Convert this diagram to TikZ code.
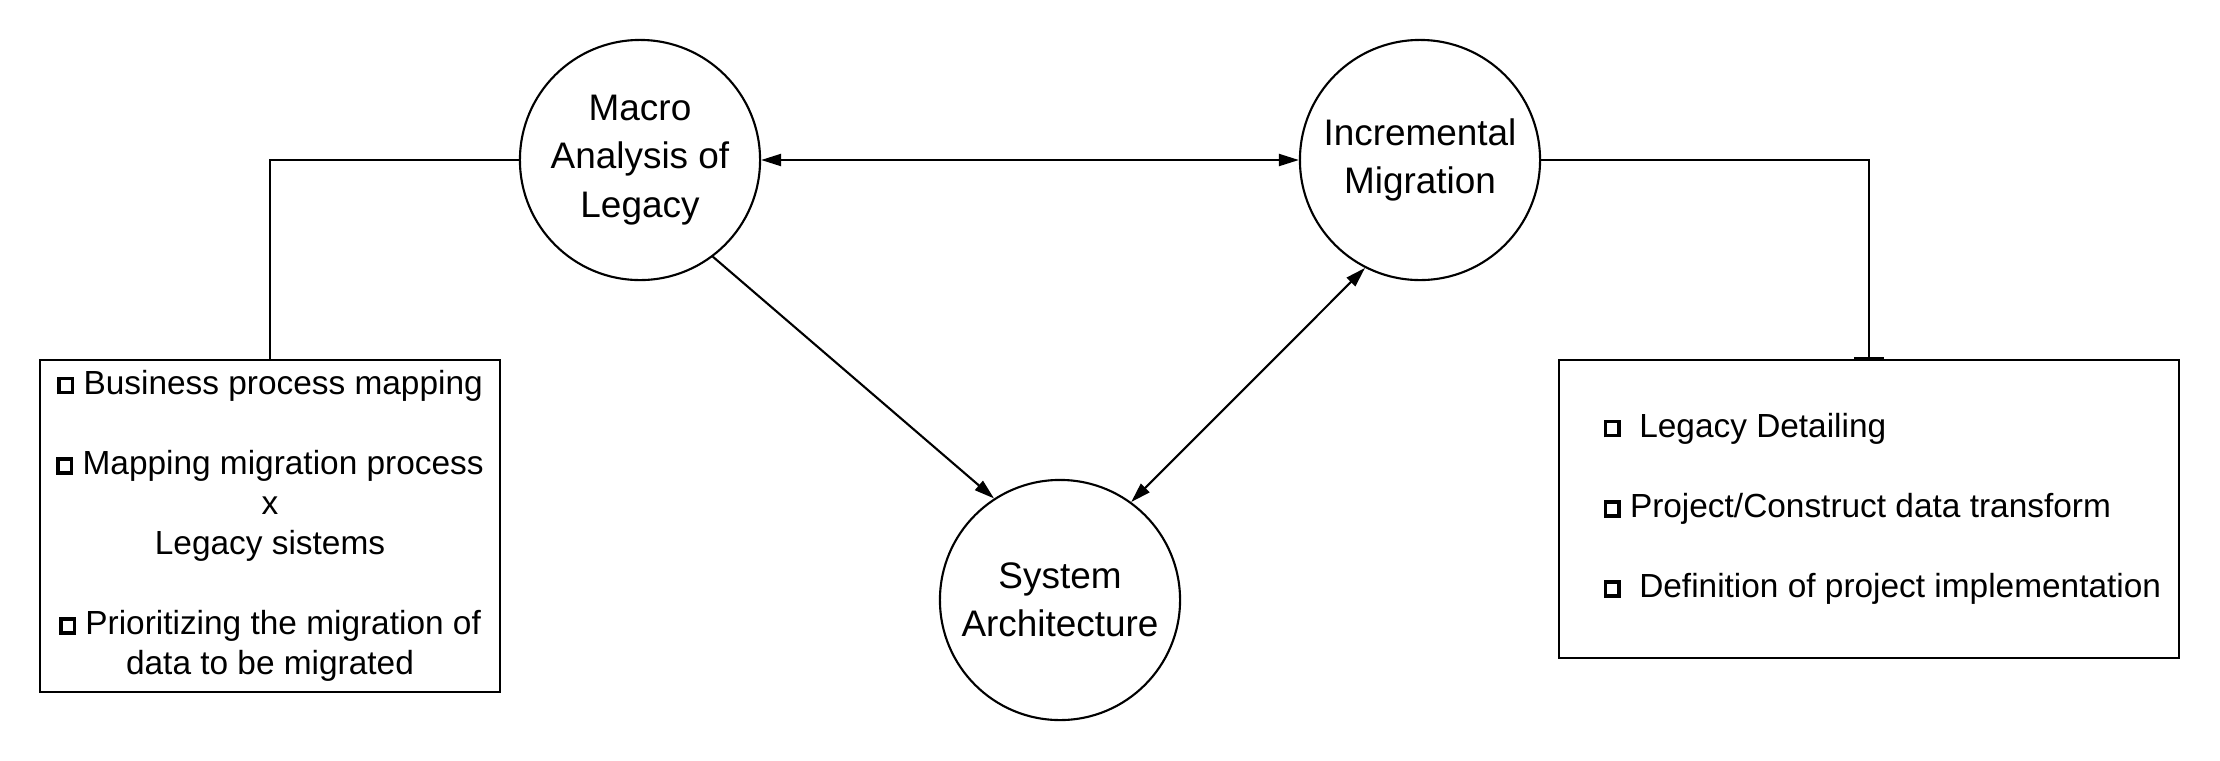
\documentclass[tikz,border=0pt]{standalone}
\usepackage{fontspec}
\setmainfont{Liberation Sans}
\usetikzlibrary{arrows.meta}
\newcommand{\sqbul}{\rlap{\rule{0.17cm}{0.175cm}}\hspace{0.035cm}{\color{white}\rule[0.035cm]{0.1cm}{0.105cm}}\hspace{0.035cm}}
\tikzset{
  circ/.style={circle, draw, line width=0.6pt, minimum size=2.4cm, inner sep=0pt, align=center,
    font=\fontsize{10.5pt}{13.7pt}\selectfont},
  boxnode/.style={rectangle, draw, line width=0.6pt, inner sep=0pt},
  boxtext/.style={font=\fontsize{9.5pt}{11.4pt}\selectfont},
  conn/.style={line width=0.6pt},
  tip/.tip={Triangle[length=0.2cm, width=0.12cm]}
}
\begin{document}
\begin{tikzpicture}[x=0.01cm, y=-0.01cm]
\useasboundingbox[fill=white] (0,0) rectangle (2220,760);
\node[circ] (macro) at (640,160) {Macro\\Analysis of\\Legacy};
\node[circ] (inc) at (1420,160) {Incremental\\Migration};
\node[circ] (sys) at (1060,600) {System\\Architecture};
\node[boxnode, boxtext, align=center, minimum width=4.6cm, minimum height=3.32cm] (lbox) at (270,526)
  {\sqbul\ Business process mapping\\[11.4pt]
   \sqbul\ Mapping migration process\\ x\\ Legacy sistems\\[11.4pt]
   \sqbul\ Prioritizing the migration of\\ data to be migrated};
\node[boxnode, minimum width=6.2cm, minimum height=2.98cm] (rbox) at (1869,509) {};
\node[boxtext, anchor=west, align=left, inner sep=0pt] (rtext) at (1603,509)
  {\sqbul\ \ Legacy Detailing\\[11.4pt]
   \sqbul\ Project/Construct data transform\\[11.4pt]
   \sqbul\ \ Definition of project implementation};
\draw[conn] (macro.west) -| (lbox.north);
\draw[conn] (inc.east) -| (rbox.north);
\draw[line width=1.1pt] ([xshift=-0.15cm]rbox.north) -- ([xshift=0.15cm]rbox.north);
\draw[conn, tip-tip] (macro.east) -- (inc.west);
\draw[conn, -tip] (macro.-53) -- (sys.123);
\draw[conn, tip-tip] (sys.54) -- (inc.-117);
\end{tikzpicture}
\end{document}
